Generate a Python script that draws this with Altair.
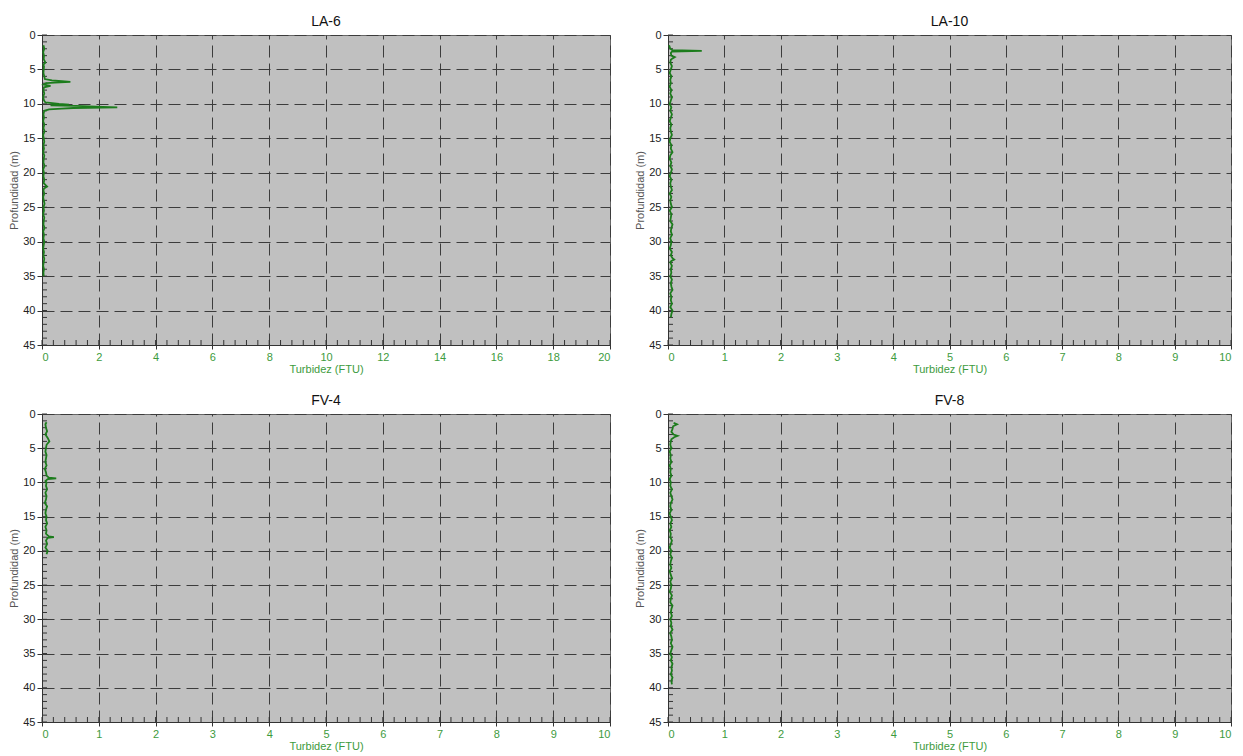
import altair as alt
import pandas as pd

# ---------------- data ----------------
la6_depth = [1.5, 2.0, 2.5, 3.0, 3.5, 4.0, 4.3, 4.6, 5.0, 5.5,
             6.0, 6.4, 6.6, 6.7, 6.8, 6.9, 7.0, 7.2, 7.4, 7.6,
             8.0, 8.5, 9.0, 9.5, 9.8, 10.0, 10.1, 10.2, 10.3, 10.4,
             10.5, 10.6, 10.7, 10.8, 11.0, 11.5, 12.0, 12.5, 13.0, 13.5,
             14.0, 14.5, 15.0, 15.5, 16.0, 16.5, 17.0, 17.5, 18.0, 18.5,
             19.0, 19.5, 20.0, 20.5, 21.0, 21.5, 22.0, 22.3, 22.6, 23.0,
             23.5, 24.0, 24.5, 25.0, 25.5, 26.0, 26.5, 27.0, 27.5, 28.0,
             28.5, 29.0, 29.5, 30.0, 30.5, 31.0, 31.5, 32.0, 32.5, 33.0,
             33.5, 34.0, 34.5, 35.0]
la6_turb = [0.05, 0.08, 0.04, 0.07, 0.06, 0.12, 0.05, 0.07, 0.06, 0.05,
            0.08, 0.10, 0.35, 0.70, 1.00, 0.45, 0.15, 0.06, 0.30, 0.07,
            0.05, 0.08, 0.04, 0.07, 0.12, 0.60, 0.95, 0.30, 1.20, 1.90,
            2.65, 1.10, 0.70, 0.25, 0.08, 0.05, 0.07, 0.04, 0.08, 0.05,
            0.09, 0.04, 0.06, 0.08, 0.05, 0.07, 0.04, 0.08, 0.06, 0.05,
            0.09, 0.04, 0.07, 0.05, 0.08, 0.06, 0.18, 0.07, 0.05, 0.08,
            0.04, 0.06, 0.09, 0.05, 0.07, 0.04, 0.08, 0.06, 0.05, 0.09,
            0.04, 0.07, 0.05, 0.08, 0.06, 0.04, 0.07, 0.05, 0.08, 0.06,
            0.04, 0.07, 0.05, 0.06]

la10_depth = [1.5, 2.0, 2.2, 2.3, 2.4, 2.6, 3.0, 3.2, 3.4, 3.6,
              4.0, 4.5, 5.0, 5.5, 6.0, 6.5, 7.0, 7.5, 8.0, 8.5,
              9.0, 9.5, 10.0, 10.5, 11.0, 11.5, 12.0, 12.5, 13.0, 13.5,
              14.0, 14.5, 15.0, 15.5, 16.0, 16.5, 17.0, 17.5, 18.0, 18.5,
              19.0, 19.5, 20.0, 20.5, 21.0, 21.5, 22.0, 22.5, 23.0, 23.5,
              24.0, 24.5, 25.0, 25.5, 26.0, 26.5, 27.0, 27.5, 28.0, 28.5,
              29.0, 29.5, 30.0, 30.5, 31.0, 31.5, 32.0, 32.4, 32.6, 32.8,
              33.0, 33.5, 34.0, 34.5, 35.0, 35.5, 36.0, 36.5, 37.0, 37.5,
              38.0, 38.5, 39.0, 39.5, 40.0, 40.5, 41.0]
la10_turb = [0.02, 0.04, 0.08, 0.60, 0.07, 0.05, 0.06, 0.12, 0.08, 0.05,
             0.04, 0.07, 0.05, 0.03, 0.06, 0.04, 0.05, 0.03, 0.06, 0.04,
             0.07, 0.05, 0.03, 0.06, 0.04, 0.07, 0.05, 0.03, 0.06, 0.04,
             0.05, 0.07, 0.04, 0.03, 0.06, 0.05, 0.08, 0.04, 0.03, 0.06,
             0.04, 0.07, 0.05, 0.03, 0.06, 0.04, 0.05, 0.07, 0.03, 0.06,
             0.04, 0.05, 0.07, 0.03, 0.06, 0.05, 0.04, 0.08, 0.06, 0.05,
             0.07, 0.04, 0.06, 0.05, 0.03, 0.07, 0.05, 0.08, 0.11, 0.06,
             0.04, 0.07, 0.05, 0.06, 0.04, 0.07, 0.05, 0.06, 0.08, 0.04,
             0.06, 0.05, 0.07, 0.04, 0.08, 0.06, 0.05]

fv4_depth = [1.2, 1.5, 2.0, 2.5, 3.0, 3.5, 4.0, 4.5, 5.0, 5.5,
             6.0, 6.5, 7.0, 7.5, 8.0, 8.5, 9.0, 9.3, 9.4, 9.5,
             9.8, 10.0, 10.5, 11.0, 11.5, 12.0, 12.5, 13.0, 13.5, 14.0,
             14.5, 15.0, 15.5, 16.0, 16.5, 17.0, 17.5, 17.9, 18.0, 18.1,
             18.5, 19.0, 19.5, 20.0, 20.5]
fv4_turb = [0.08, 0.06, 0.07, 0.09, 0.06, 0.10, 0.13, 0.08, 0.07, 0.06,
            0.08, 0.07, 0.06, 0.08, 0.05, 0.07, 0.08, 0.12, 0.25, 0.10,
            0.06, 0.08, 0.07, 0.09, 0.06, 0.08, 0.07, 0.05, 0.09, 0.07,
            0.06, 0.08, 0.07, 0.09, 0.06, 0.08, 0.07, 0.12, 0.21, 0.10,
            0.07, 0.09, 0.06, 0.10, 0.08]

fv8_depth = [1.3, 1.5, 1.8, 2.2, 2.6, 3.0, 3.2, 3.4, 3.7, 4.0,
             4.5, 5.0, 5.5, 6.0, 6.5, 7.0, 7.5, 8.0, 8.5, 9.0,
             9.5, 10.0, 10.5, 11.0, 11.5, 12.0, 12.5, 13.0, 13.5, 14.0,
             14.5, 15.0, 15.5, 16.0, 16.5, 17.0, 17.5, 18.0, 18.5, 19.0,
             19.5, 20.0, 20.5, 21.0, 21.5, 22.0, 22.5, 23.0, 23.5, 24.0,
             24.5, 25.0, 25.5, 26.0, 26.5, 27.0, 27.5, 28.0, 28.5, 29.0,
             29.5, 30.0, 30.5, 31.0, 31.5, 32.0, 32.5, 33.0, 33.5, 34.0,
             34.5, 35.0, 35.5, 36.0, 36.5, 37.0, 37.5, 38.0, 38.5, 39.0,
             39.5]
fv8_turb = [0.10, 0.16, 0.09, 0.08, 0.06, 0.10, 0.17, 0.11, 0.06, 0.05,
            0.04, 0.06, 0.03, 0.05, 0.04, 0.06, 0.03, 0.05, 0.04, 0.06,
            0.03, 0.05, 0.04, 0.07, 0.04, 0.06, 0.08, 0.05, 0.04, 0.06,
            0.03, 0.05, 0.07, 0.04, 0.06, 0.03, 0.05, 0.04, 0.07, 0.05,
            0.03, 0.06, 0.04, 0.07, 0.05, 0.04, 0.06, 0.03, 0.05, 0.07,
            0.04, 0.06, 0.05, 0.03, 0.07, 0.05, 0.04, 0.08, 0.06, 0.05,
            0.07, 0.04, 0.06, 0.05, 0.08, 0.04, 0.06, 0.07, 0.05, 0.08,
            0.06, 0.04, 0.07, 0.05, 0.08, 0.06, 0.07, 0.05, 0.08, 0.06,
            0.07]

# tick lists
depth_major = [0, 5, 10, 15, 20, 25, 30, 35, 40, 45]
depth_minor = list(range(0, 46))
x20_major = [0, 2, 4, 6, 8, 10, 12, 14, 16, 18, 20]
x20_minor = [round(i * 0.4, 1) for i in range(0, 51)]
x10_major = [0, 1, 2, 3, 4, 5, 6, 7, 8, 9, 10]
x10_minor = [round(i * 0.2, 1) for i in range(0, 51)]

FONT = "Liberation Sans"
LINE_GREEN = "#1c7c1c"
LABEL_GREEN = "#3d9b3d"
TICK = "#333333"


def panel(name, depth, turb, xmax, xmajor, xminor, w, h):
    df = pd.DataFrame({"depth": depth, "turb": turb})
    xscale = alt.Scale(domain=[0, xmax], nice=False, zero=True)
    yscale = alt.Scale(domain=[0, 45], reverse=True, nice=False, zero=True)
    xaxis = alt.Axis(values=xmajor, title="Turbidez (FTU)",
                     grid=True, gridColor="#3c3c3c", gridDash=[12, 6],
                     gridWidth=1, tickSize=4, tickColor=TICK,
                     domainColor=TICK, labelColor=LABEL_GREEN,
                     labelFontSize=11, labelFont=FONT, labelPadding=2,
                     titleColor=LABEL_GREEN, titleFontSize=11,
                     titleFont=FONT, titleFontWeight="normal",
                     titlePadding=1, format="d")
    yaxis = alt.Axis(values=depth_major, title="Profundidad (m)",
                     grid=True, gridColor="#3c3c3c", gridDash=[12, 6],
                     gridWidth=1, tickSize=5, tickColor=TICK,
                     domainColor=TICK, labelColor="#222",
                     labelFontSize=11, labelFont=FONT, labelPadding=2,
                     titleColor="#555", titleFontSize=11,
                     titleFont=FONT, titleFontWeight="normal",
                     titlePadding=3)
    yticks = alt.Chart(pd.DataFrame({"depth": depth_minor})).mark_rule(
        color=TICK, strokeWidth=1
    ).encode(
        y=alt.Y("depth:Q", scale=yscale, axis=yaxis),
        x=alt.value(0), x2=alt.value(5),
    )
    xticks = alt.Chart(pd.DataFrame({"turb": xminor})).mark_rule(
        color=TICK, strokeWidth=1
    ).encode(
        x=alt.X("turb:Q", scale=xscale, axis=xaxis),
        y=alt.value(h), y2=alt.value(h - 5),
    )
    line = alt.Chart(df).mark_line(color=LINE_GREEN, strokeWidth=1.8).encode(
        x=alt.X("turb:Q", scale=xscale, axis=xaxis),
        y=alt.Y("depth:Q", scale=yscale, axis=yaxis),
        order="depth:Q",
    )
    return alt.layer(yticks, xticks, line).properties(
        width=w, height=h,
        title=alt.TitleParams(name, fontSize=14, font=FONT,
                              fontWeight="normal", color="#111",
                              anchor="middle", offset=4, dy=4),
    )


p1 = panel("LA-6", la6_depth, la6_turb, 20, x20_major, x20_minor, 568, 310)
p2 = panel("LA-10", la10_depth, la10_turb, 10, x10_major, x10_minor, 563, 310)
p3 = panel("FV-4", fv4_depth, fv4_turb, 10, x10_major, x10_minor, 568, 308)
p4 = panel("FV-8", fv8_depth, fv8_turb, 10, x10_major, x10_minor, 563, 308)

chart = alt.vconcat(
    alt.hconcat(p1, p2, spacing=23),
    alt.hconcat(p3, p4, spacing=23),
    spacing=18,
).configure(
    background="white",
    padding={"left": 0, "top": 6, "right": 0, "bottom": 0},
).configure_view(
    fill="#c0c0c0", stroke="#666", strokeWidth=1,
)

chart.save("out.html", embed_options={"renderer": "svg", "actions": False})
